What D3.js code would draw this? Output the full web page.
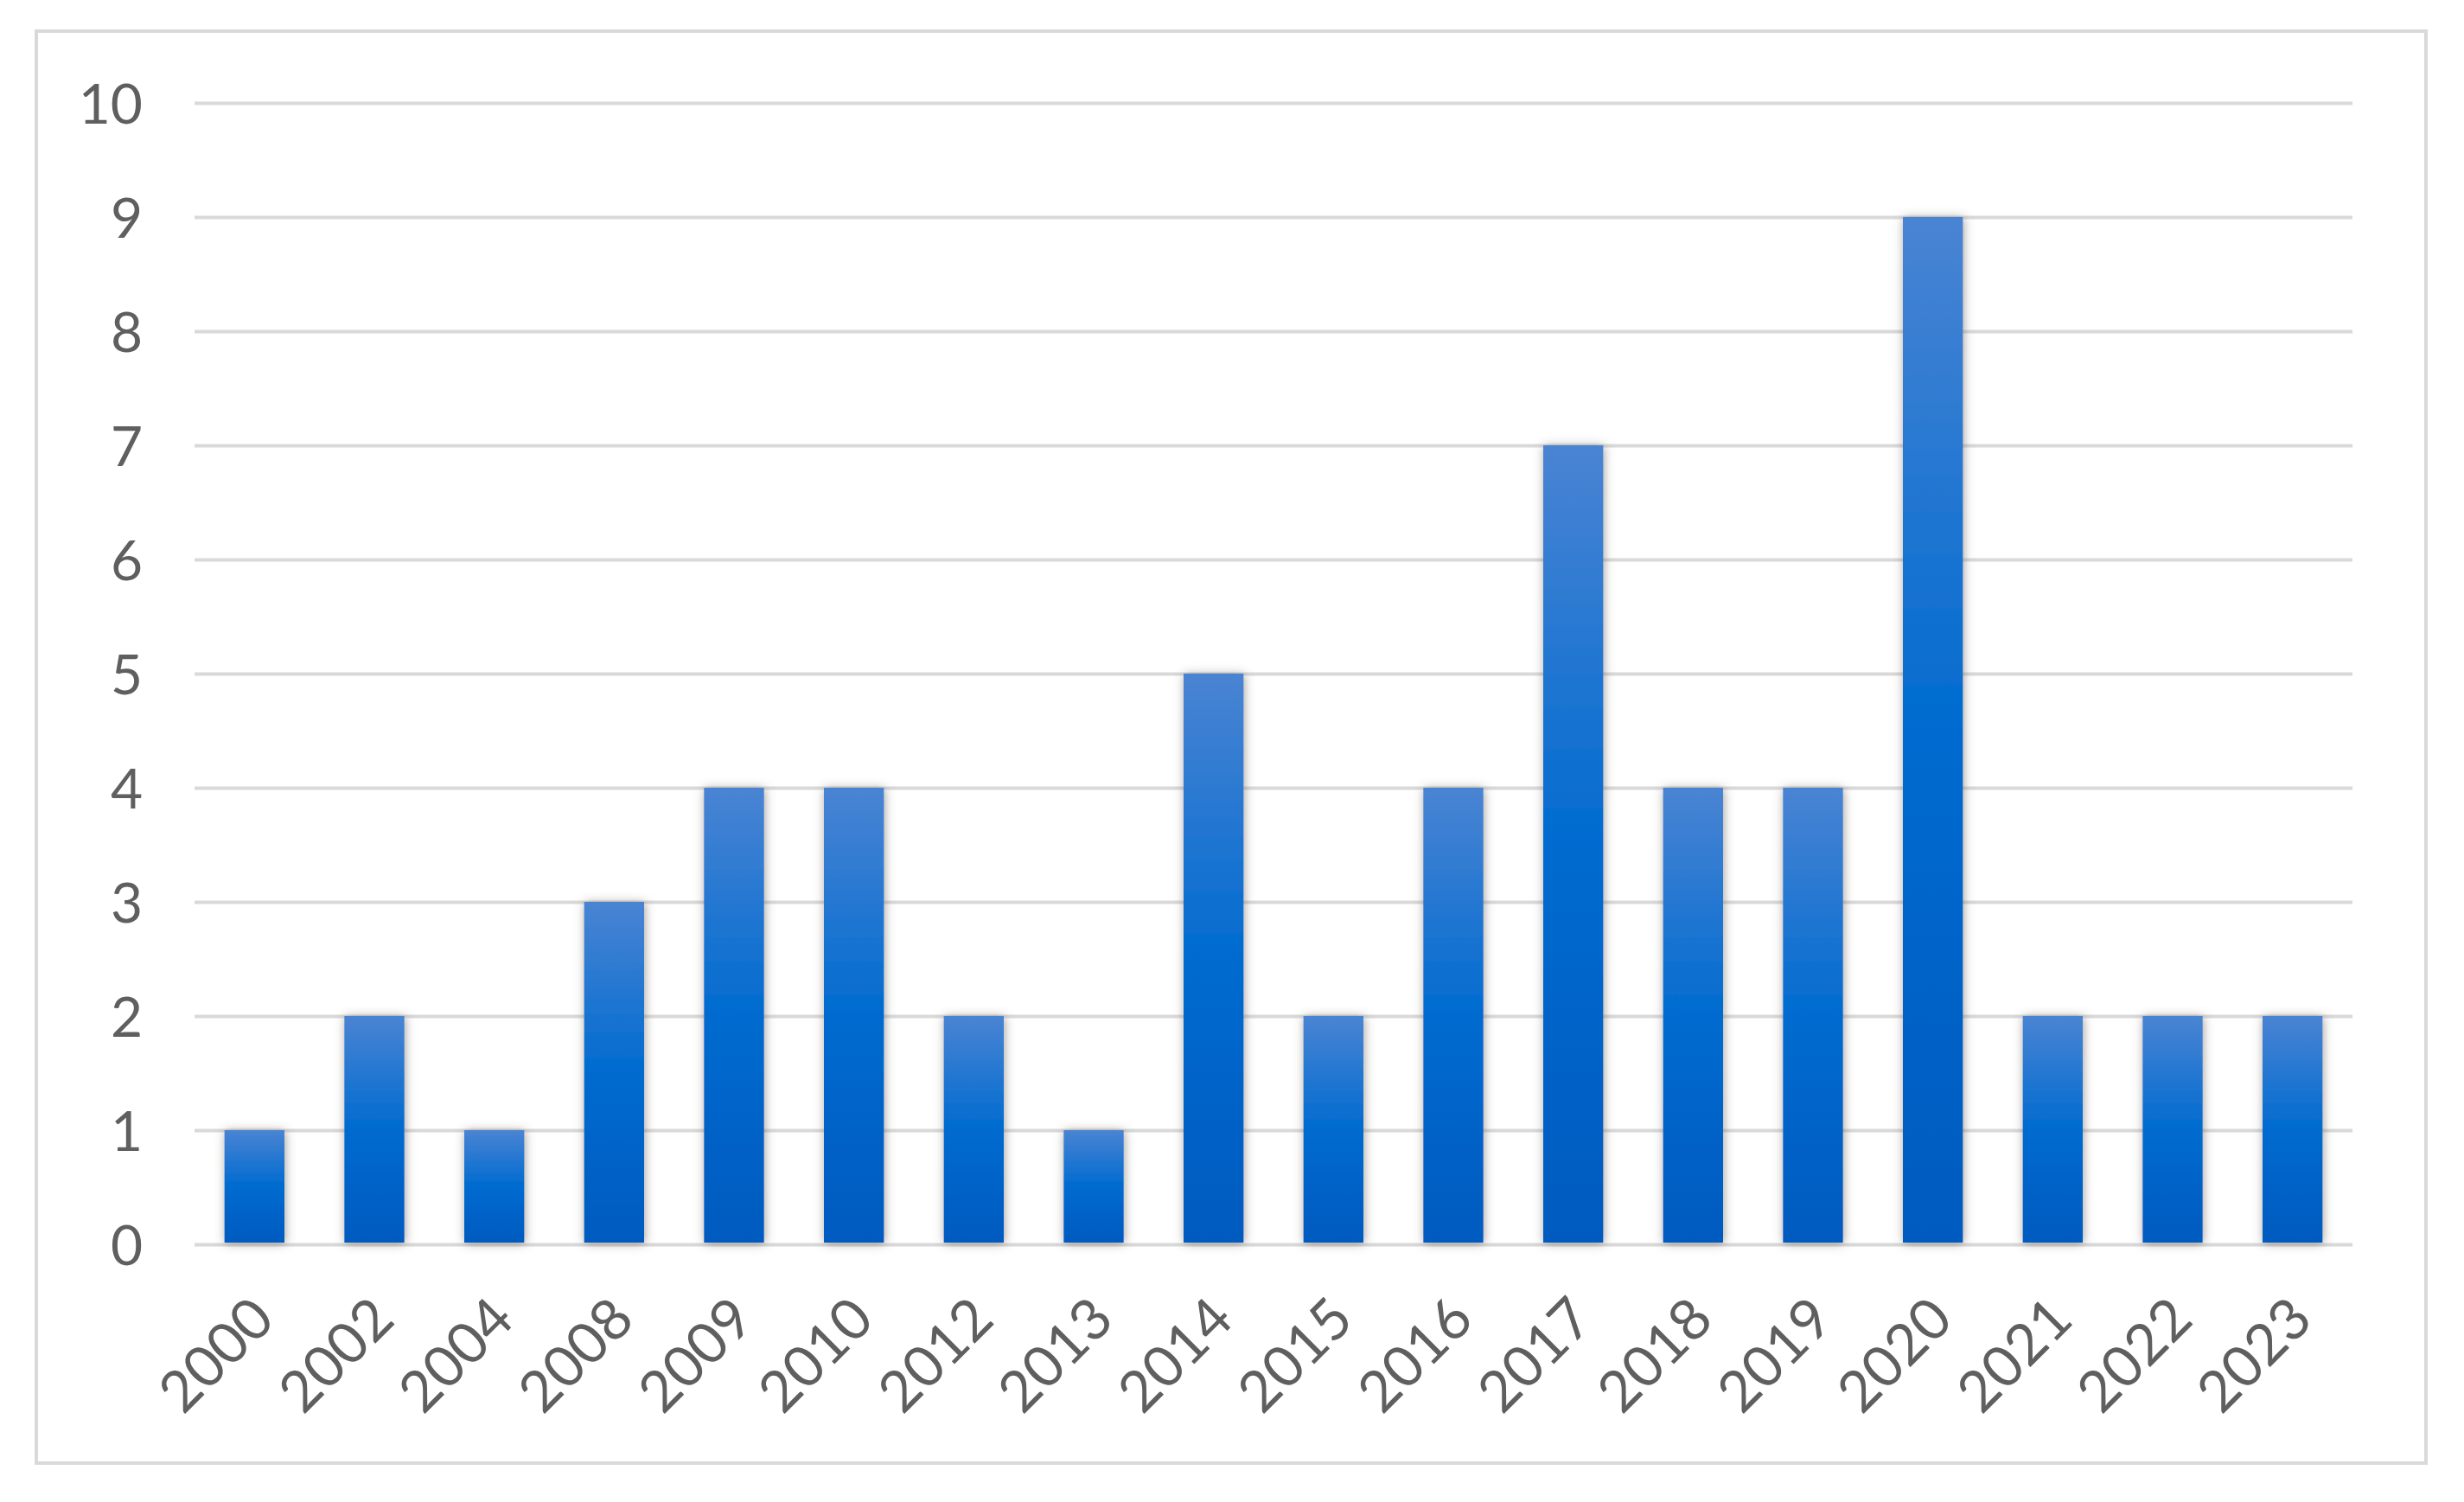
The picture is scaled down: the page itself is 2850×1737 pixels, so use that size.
<!DOCTYPE html>
<html>
<head>
<meta charset="utf-8">
<script src="https://cdnjs.cloudflare.com/ajax/libs/d3/7.8.5/d3.min.js"></script>
<style>
	body { margin: 0; background: #fff; }
	svg { display: block; }
	.yAxis text, .xAxis text { font-family: Lato, 'Open Sans', sans-serif; fill: #5f5f5f; }
</style>
</head>
<body>
<script>
'use strict';

// chart data
var years = ['2000', '2002', '2004', '2008', '2009', '2010', '2012', '2013', '2014',
	'2015', '2016', '2017', '2018', '2019', '2020', '2021', '2022', '2023'],
counts = [1, 2, 1, 3, 4, 4, 2, 1, 5, 2, 4, 7, 4, 4, 9, 2, 2, 2],
yTicks = [0, 1, 2, 3, 4, 5, 6, 7, 8, 9, 10],

svg, g,

margin = {top: 119, right: 129, bottom: 298, left: 225},
width = 2850 - margin.left - margin.right,
height = 1737 - margin.top - margin.bottom,

x = d3.scaleBand()
	.domain(years)
	.range([0, width])
	.paddingInner(0.5)
	.paddingOuter(0.25),

y = d3.scaleLinear()
	.domain([0, 10])
	.range([height, 0]);

window.onload = function() {

	svg = d3.select('body')
		.append('svg')
			.attr('width', 2850)
			.attr('height', 1737);

	makeDefs();

	// light frame round the whole chart
	svg.append('rect')
		.attr('x', 42)
		.attr('y', 36)
		.attr('width', 2764)
		.attr('height', 1656)
		.attr('fill', '#fff')
		.attr('stroke', '#d9d9d9')
		.attr('stroke-width', 4);

	g = svg.append('g').attr('transform', 'translate(' + margin.left + ',' + margin.top + ')');

	makeAxis();
	makeBars();
};

/*
* Gradient for the bars and the soft shadow behind them.
*/
function makeDefs() {
	var defs = svg.append('defs');

	var grad = defs.append('linearGradient')
		.attr('id', 'barFill')
		.attr('x1', 0).attr('y1', 0)
		.attr('x2', 0).attr('y2', 1);

	grad.append('stop').attr('offset', '0%').attr('stop-color', '#4a84d3');
	grad.append('stop').attr('offset', '50%').attr('stop-color', '#006bd0');
	grad.append('stop').attr('offset', '100%').attr('stop-color', '#005abf');

	defs.append('filter')
		.attr('id', 'shadow')
		.attr('x', '-30%').attr('y', '-10%')
		.attr('width', '160%').attr('height', '120%')
		.append('feDropShadow')
			.attr('dx', 1)
			.attr('dy', 1)
			.attr('stdDeviation', 6)
			.attr('flood-color', '#5a5048')
			.attr('flood-opacity', 0.55);
}

/*
* Gridlines with y labels, and rotated year labels below.
*/
function makeAxis() {
	var yAxis = g.append('g')
		.attr('class', 'yAxis')
		.call(d3.axisLeft(y)
			.tickValues(yTicks)
			.tickSize(-width)
			.tickPadding(60)
			.tickFormat(d3.format('d')));

	yAxis.select('.domain').remove();
	yAxis.selectAll('line')
		.attr('stroke', '#d9d9d9')
		.attr('stroke-width', 4);
	yAxis.selectAll('text')
		.attr('font-size', 64)
		.attr('dy', '0.36em');

	var xAxis = g.append('g')
		.attr('class', 'xAxis')
		.attr('transform', 'translate(0,' + height + ')')
		.call(d3.axisBottom(x).tickSize(0).tickPadding(0));

	xAxis.select('.domain').remove();
	xAxis.selectAll('text')
		.attr('font-size', 66)
		.attr('text-anchor', 'end')
		.attr('dy', 0)
		.attr('y', 0)
		.attr('transform', 'translate(26,90) rotate(-45)');
}

/*
* Draws one bar per year.
*/
function makeBars() {
	g.selectAll('.bar')
		.data(counts)
		.enter().append('rect')
			.attr('class', 'bar')
			.attr('x', function(d, i) { return x(years[i]); })
			.attr('y', function(d) { return y(d); })
			.attr('width', x.bandwidth())
			.attr('height', function(d) { return height - y(d) - 2; })
			.attr('fill', 'url(#barFill)')
			.attr('filter', 'url(#shadow)');
}
</script>
</body>
</html>
